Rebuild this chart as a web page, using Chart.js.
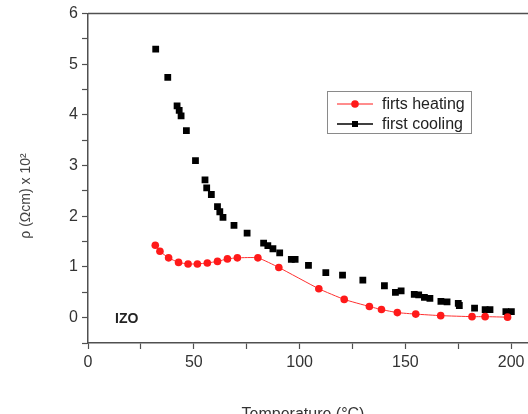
<!DOCTYPE html>
<html>
<head>
<meta charset="utf-8">
<script src="https://cdn.jsdelivr.net/npm/chart.js@4"></script>
<style>
  html, body { margin: 0; padding: 0; background: #fff; overflow: hidden; }
  #wrap { position: absolute; left: 0; top: 0; width: 535px; height: 425px; }
</style>
</head>
<body>
<div id="wrap"><canvas id="chart"></canvas></div>
<script>
// first heating (red circles)
const heatT = [31.8, 34.0, 38.1, 42.8, 47.3, 51.7, 56.4, 61.2, 65.9, 70.6, 80.3, 90.2,
  109.1, 121.1, 133.0, 138.7, 146.2, 154.9, 166.7, 181.5, 187.7, 198.3]
const heatRho = [1.43, 1.31, 1.18, 1.09, 1.06, 1.06, 1.08, 1.11, 1.16, 1.18, 1.18, 0.99,
  0.57, 0.36, 0.22, 0.16, 0.10, 0.07, 0.04, 0.02, 0.02, 0.01]

// first cooling (black squares)
const coolT = [32.0, 37.7, 42.1, 43.1, 44.0, 46.5, 50.8, 55.3, 56.1, 58.3, 61.2, 62.3, 63.8,
  69.0, 75.2, 83.0, 85.0, 87.4, 90.6, 96.1, 97.9, 104.2, 112.4, 120.3, 129.9, 140.1, 145.3,
  148.0, 154.2, 156.3, 159.0, 161.6, 166.8, 169.7, 175.0, 175.5, 182.7, 187.7, 190.0, 197.5, 200.1]
const coolRho = [5.30, 4.74, 4.18, 4.09, 3.98, 3.69, 3.10, 2.72, 2.56, 2.43, 2.19, 2.09, 1.98,
  1.82, 1.67, 1.47, 1.42, 1.36, 1.28, 1.15, 1.15, 1.03, 0.89, 0.84, 0.74, 0.63, 0.50,
  0.53, 0.46, 0.45, 0.40, 0.38, 0.32, 0.31, 0.28, 0.24, 0.19, 0.16, 0.16, 0.12, 0.12]

const xTickLabels = [0, 50, 100, 150, 200]
const yTickLabels = [0, 1, 2, 3, 4, 5, 6]

const seriesNames = ['firts heating', 'first cooling']
const xTitle = 'Temperature (°C)'
const yTitle = 'ρ (Ωcm) x 10²'
const sampleLabel = 'IZO'

const FONT = '"Liberation Sans", Arial, sans-serif'
const AXIS = '#505050'

// titles, frame, legend box and sample label
const decor = {
  id: 'decor',
  afterDraw(chart) {
    const ctx = chart.ctx
    const a = chart.chartArea
    ctx.save()

    // frame top / right
    ctx.strokeStyle = AXIS
    ctx.lineWidth = 1.5
    ctx.beginPath()
    ctx.moveTo(a.left, a.top)
    ctx.lineTo(a.right, a.top)
    ctx.lineTo(a.right, a.bottom)
    ctx.stroke()

    // axis titles
    ctx.fillStyle = '#333'
    ctx.textAlign = 'center'
    ctx.textBaseline = 'middle'
    ctx.font = '16px ' + FONT
    ctx.fillText(xTitle, 303, 415)
    ctx.save()
    ctx.translate(26, 196)
    ctx.rotate(-Math.PI / 2)
    ctx.font = '14px ' + FONT
    ctx.fillStyle = '#444'
    ctx.fillText(yTitle, 0, 0)
    ctx.restore()

    // sample label
    ctx.font = 'bold 14px ' + FONT
    ctx.fillStyle = '#222'
    ctx.textAlign = 'left'
    ctx.fillText(sampleLabel, 115, 319)

    // legend
    const bx = 327, by = 91, bw = 144, bh = 42
    ctx.fillStyle = '#fff'
    ctx.fillRect(bx, by, bw, bh)
    ctx.strokeStyle = '#8a8a8a'
    ctx.lineWidth = 1
    ctx.strokeRect(bx + 0.5, by + 0.5, bw, bh)

    const rows = [
      { y: by + 13, color: '#ff1a1a', shape: 'circle', lw: 1 },
      { y: by + 33, color: '#000', shape: 'rect', lw: 1.5 }
    ]
    rows.forEach((r, i) => {
      ctx.strokeStyle = r.color
      ctx.lineWidth = r.lw
      ctx.beginPath()
      ctx.moveTo(337, r.y)
      ctx.lineTo(373, r.y)
      ctx.stroke()
      ctx.fillStyle = r.color
      if (r.shape === 'circle') {
        ctx.beginPath()
        ctx.arc(355, r.y, 3.8, 0, Math.PI * 2)
        ctx.fill()
      } else {
        ctx.fillRect(352, r.y - 3, 6, 6)
      }
      ctx.fillStyle = '#222'
      ctx.font = '16px ' + FONT
      ctx.textAlign = 'left'
      ctx.fillText(seriesNames[i], 382, r.y + 1)
    })
    ctx.restore()
  }
}

new Chart(document.getElementById('chart'), {
  type: 'scatter',
  data: {
    datasets: [
      {
        label: seriesNames[0],
        data: heatT.map((t, i) => ({ x: t, y: heatRho[i] })),
        showLine: true,
        borderColor: '#ff3030',
        borderWidth: 1,
        tension: 0.15,
        pointStyle: 'circle',
        pointRadius: 3.8,
        pointBackgroundColor: '#ff1a1a',
        pointBorderWidth: 0
      },
      {
        label: seriesNames[1],
        data: coolT.map((t, i) => ({ x: t, y: coolRho[i] })),
        showLine: false,
        pointStyle: 'rect',
        pointRadius: 4.8,
        pointBackgroundColor: '#000',
        pointBorderWidth: 0
      }
    ]
  },
  options: {
    responsive: true,
    maintainAspectRatio: false,
    animation: false,
    layout: { padding: { top: 13, right: 4, left: 0, bottom: 0 } },
    plugins: {
      legend: { display: false },
      tooltip: { enabled: false }
    },
    scales: {
      x: {
        type: 'linear',
        min: 0,
        max: 209,
        afterFit: s => { s.height = 82 },
        ticks: {
          stepSize: 25,
          autoSkip: false,
          includeBounds: false,
          maxRotation: 0,
          padding: 4,
          color: '#333',
          font: { family: FONT, size: 16 },
          callback: v => xTickLabels.includes(v) ? v : ''
        },
        grid: { drawOnChartArea: false, tickLength: 6, tickColor: AXIS, tickWidth: 1.2 },
        border: { color: AXIS, width: 1.5 }
      },
      y: {
        min: -0.5,
        max: 6,
        afterFit: s => { s.width = 88 },
        ticks: {
          stepSize: 0.5,
          autoSkip: false,
          padding: 4,
          color: '#333',
          font: { family: FONT, size: 16 },
          callback: v => yTickLabels.includes(v) ? v : ''
        },
        grid: { drawOnChartArea: false, tickLength: 6, tickColor: AXIS, tickWidth: 1.2 },
        border: { color: AXIS, width: 1.5 }
      }
    }
  },
  plugins: [decor]
})
</script>
</body>
</html>
